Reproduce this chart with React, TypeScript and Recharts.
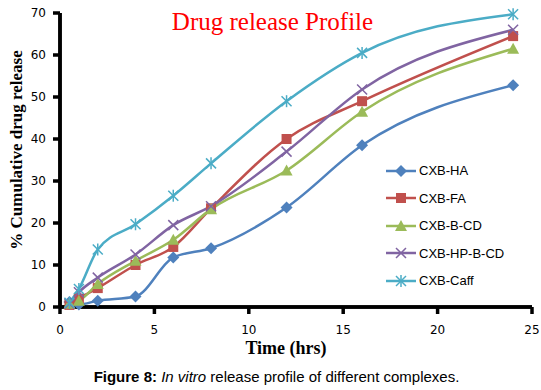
import React from 'react';
import { LineChart, Line, XAxis, YAxis, ReferenceLine } from 'recharts';

const times = [0.5, 1, 2, 4, 6, 8, 12, 16, 24];
const cxbHA = [1.2, 0.6, 1.5, 2.5, 11.8, 14, 23.7, 38.5, 52.8];
const cxbFA = [0.5, 2, 4.5, 10, 14.3, 23.5, 40, 49, 64.5];
const cxbBCD = [0.8, 1.5, 5.5, 11, 16, 23.3, 32.5, 46.5, 61.5];
const cxbHPBCD = [0.8, 3.5, 7, 12.5, 19.5, 24, 37, 51.8, 66];
const cxbCaff = [1, 4.3, 13.7, 19.7, 26.5, 34.2, 49, 60.5, 69.7];
const xTicks = [0, 5, 10, 15, 20, 25];
const yTicks = [0, 10, 20, 30, 40, 50, 60, 70];

const series = [
  { key: 'ha', name: 'CXB-HA', color: '#4F81BD', shape: 'diamond', values: cxbHA },
  { key: 'fa', name: 'CXB-FA', color: '#C0504D', shape: 'square', values: cxbFA },
  { key: 'bcd', name: 'CXB-B-CD', color: '#9BBB59', shape: 'triangle', values: cxbBCD },
  { key: 'hpbcd', name: 'CXB-HP-B-CD', color: '#8064A2', shape: 'x', values: cxbHPBCD },
  { key: 'caff', name: 'CXB-Caff', color: '#4BACC6', shape: 'star', values: cxbCaff },
];

const data = times.map((t, i) => {
  const row: any = { time: t };
  series.forEach((s) => (row[s.key] = s.values[i]));
  return row;
});

function Marker({ shape, cx, cy, color }: { shape: string; cx: number; cy: number; color: string }) {
  const r = 5;
  if (shape === 'diamond')
    return <path d={`M${cx},${cy - r - 1} L${cx + r + 1},${cy} L${cx},${cy + r + 1} L${cx - r - 1},${cy} Z`} fill={color} />;
  if (shape === 'square') return <rect x={cx - r} y={cy - r} width={r * 2} height={r * 2} fill={color} />;
  if (shape === 'triangle')
    return <path d={`M${cx},${cy - r - 1} L${cx + r + 1},${cy + r} L${cx - r - 1},${cy + r} Z`} fill={color} />;
  if (shape === 'x')
    return (
      <g stroke={color} strokeWidth={1.5}>
        <line x1={cx - r} y1={cy - r} x2={cx + r} y2={cy + r} />
        <line x1={cx - r} y1={cy + r} x2={cx + r} y2={cy - r} />
      </g>
    );
  return (
    <g stroke={color} strokeWidth={1.5}>
      <line x1={cx - r} y1={cy - r} x2={cx + r} y2={cy + r} />
      <line x1={cx - r} y1={cy + r} x2={cx + r} y2={cy - r} />
      <line x1={cx} y1={cy - r - 1} x2={cx} y2={cy + r + 1} />
    </g>
  );
}

const LegendBox = () => (
  <div style={{ fontFamily: '"Liberation Sans", Arial, sans-serif', fontSize: 13 }}>
    {series.map((s) => (
      <div key={s.key} style={{ display: 'flex', alignItems: 'center', height: 27.5 }}>
        <svg width={32} height={14}>
          <line x1={1} y1={7} x2={31} y2={7} stroke={s.color} strokeWidth={2.5} />
          <Marker shape={s.shape} cx={16} cy={7} color={s.color} />
        </svg>
        <span style={{ marginLeft: 2, color: '#000' }}>{s.name}</span>
      </div>
    ))}
  </div>
);

const tickStyle = { fontFamily: '"DejaVu Sans", Verdana, sans-serif', fontSize: 12, fill: '#000', stroke: 'none' };

export default function App() {
  return (
    <div style={{ position: 'absolute', left: 0, top: 0, width: 541, height: 390, background: '#fff' }}>
      <LineChart width={541} height={390} data={data} margin={{ top: 13, right: 9, left: 20, bottom: 53 }}>
        <XAxis
          dataKey="time"
          type="number"
          domain={[0, 25]}
          ticks={xTicks}
          stroke="#000"
          strokeWidth={3.5}
          axisLine={{ stroke: '#000', strokeWidth: 3.5 }}
          tickLine={{ stroke: '#000', strokeWidth: 3.5 }}
          tickSize={7}
          tick={tickStyle}
          tickMargin={11}
          height={30}
        />
        <YAxis
          type="number"
          domain={[0, 70]}
          ticks={yTicks}
          stroke="#000"
          strokeWidth={3.5}
          axisLine={{ stroke: '#000', strokeWidth: 3.5 }}
          tickLine={{ stroke: '#000', strokeWidth: 3.5 }}
          tickSize={7}
          tick={tickStyle}
          tickMargin={7}
          width={40}
        />
        <ReferenceLine x={0} stroke="#000" strokeWidth={3.5} />
        <ReferenceLine y={0} stroke="#000" strokeWidth={3.5} />
        {series.map((s) => (
          <Line
            key={s.key}
            type="monotone"
            dataKey={s.key}
            name={s.name}
            stroke={s.color}
            strokeWidth={2.5}
            isAnimationActive={false}
            dot={(p: any) => <Marker key={p.index} shape={s.shape} cx={p.cx} cy={p.cy} color={s.color} />}
          />
        ))}
      </LineChart>
      <div style={{ position: 'absolute', left: 385, top: 157 }}>
        <LegendBox />
      </div>
      <div
        style={{
          position: 'absolute',
          left: 0,
          width: 541,
          top: 8,
          textAlign: 'center',
          paddingLeft: 2,
          color: '#FF0000',
          fontFamily: '"Liberation Serif", "Times New Roman", serif',
          fontSize: 25,
        }}
      >
        Drug release Profile
      </div>
      <div
        style={{
          position: 'absolute',
          left: 186,
          width: 200,
          top: 339,
          textAlign: 'center',
          fontFamily: '"Liberation Serif", "Times New Roman", serif',
          fontWeight: 'bold',
          fontSize: 18,
          lineHeight: '18px',
        }}
      >
        Time (hrs)
      </div>
      <div
        style={{
          position: 'absolute',
          left: 17,
          top: 150,
          width: 260,
          marginLeft: -130,
          marginTop: -10,
          textAlign: 'center',
          transform: 'rotate(-90deg)',
          fontFamily: '"Liberation Serif", "Times New Roman", serif',
          fontWeight: 'bold',
          fontSize: 17,
          lineHeight: '20px',
        }}
      >
        % Cumulative drug release
      </div>
      <div
        style={{
          position: 'absolute',
          left: 0,
          width: 541,
          top: 368,
          textAlign: 'center',
          fontFamily: '"Liberation Sans", Arial, sans-serif',
          fontSize: 15,
          paddingLeft: 6,
        }}
      >
        <b>Figure 8:</b> <i>In vitro</i> release profile of different complexes.
      </div>
    </div>
  );
}
